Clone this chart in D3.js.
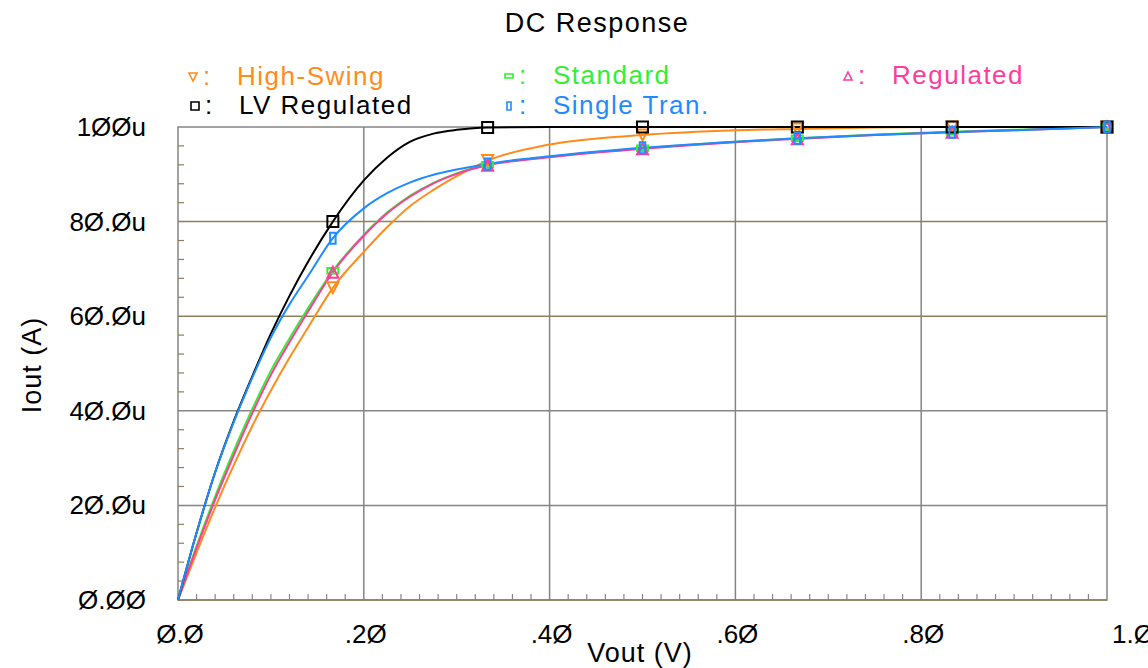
<!DOCTYPE html>
<html>
<head>
<meta charset="utf-8">
<script src="https://cdn.jsdelivr.net/npm/d3@7"></script>
<style>
  body { margin: 0; background: #fff; }
  svg { display: block; }
  text { font-family: 'Liberation Sans', Arial, sans-serif; }
</style>
</head>
<body>
<svg id="chart" width="1148" height="668"></svg>
<script>
// Vout sweep (V)
const vout = [0, 0.02, 0.04, 0.06, 0.08, 0.1, 0.12, 0.14, 0.1667, 0.2, 0.225, 0.25,
  0.275, 0.3, 0.3333, 0.4, 0.5, 0.6, 0.6667, 0.75, 0.8333, 0.9, 1.0];

// Iout (uA) per mirror type
const highSwing = [0, 10, 19.6, 28.5, 36.8, 44.3, 51.2, 57.6, 66, 73.6, 78.8, 83.3,
  86.7, 89.6, 92.9, 96.3, 98.3, 99.3, 99.6, 99.9, 100, 100, 100];
const standard = [0, 11.4, 21.9, 31.5, 40.4, 48.5, 55.3, 61.7, 69.6, 77.2, 81.9, 85.5,
  88.2, 90.2, 92, 93.7, 95.5, 96.9, 97.6, 98.4, 99, 99.4, 100];
const regulated = [0, 11, 21.2, 30.6, 39.5, 47.6, 54.5, 61, 69.3, 77, 81.7, 85.3,
  88.1, 90.1, 91.9, 93.6, 95.4, 96.8, 97.5, 98.3, 98.9, 99.3, 100];
const lvRegulated = [0, 14.2, 27, 37.8, 47.3, 56.3, 64.3, 71.5, 80, 88.7, 93.5, 96.9,
  98.6, 99.4, 99.9, 100, 100, 100, 100, 100, 100, 100, 100];
const singleTran = [0, 14.2, 27, 37.6, 47, 55.5, 62.5, 68.5, 76.5, 82.8, 86, 88.3,
  89.9, 91, 92.2, 93.8, 95.6, 96.9, 97.6, 98.3, 98.9, 99.3, 100];

// points that carry a marker
const markerV = [0.1667, 0.3333, 0.5, 0.6667, 0.8333, 1.0];

const xTicks = [0, 0.2, 0.4, 0.6, 0.8, 1.0];
const xTickLabels = ['Ø.Ø', '.2Ø', '.4Ø', '.6Ø', '.8Ø', '1.Ø'];
const yTicks = [0, 20, 40, 60, 80, 100];
const yTickLabels = ['Ø.ØØ', '2Ø.Øu', '4Ø.Øu', '6Ø.Øu', '8Ø.Øu', '1ØØu'];

const series = [
  { name: 'High-Swing', values: highSwing, color: '#ff8c1a', sym: 'down', lx: 193, ly: 77 },
  { name: 'Standard', values: standard, color: '#33ee33', sym: 'wide', lx: 509, ly: 76 },
  { name: 'Regulated', values: regulated, color: '#ff3c9c', sym: 'up', lx: 848, ly: 76 },
  { name: 'LV Regulated', values: lvRegulated, color: '#000000', sym: 'square', lx: 195, ly: 106 },
  { name: 'Single Tran.', values: singleTran, color: '#1e8cff', sym: 'tall', lx: 509, ly: 106 }
];

const svg = d3.select('#chart');

const x = d3.scaleLinear().domain([0, 1]).range([178, 1107]);
const y = d3.scaleLinear().domain([0, 100]).range([600, 127]);

const gridCol = '#858585';
const brownCol = '#8f7f58';

// grid
const grid = svg.append('g');
grid.selectAll('.vgrid')
  .data(xTicks.slice(1, -1))
  .enter().append('line')
    .attr('x1', d => x(d)).attr('x2', d => x(d))
    .attr('y1', y(0)).attr('y2', y(100))
    .attr('stroke', gridCol)
    .attr('stroke-width', 1.5);

grid.selectAll('.hgrid')
  .data(yTicks.slice(1, -1))
  .enter().append('line')
    .attr('x1', x(0)).attr('x2', x(1))
    .attr('y1', d => y(d)).attr('y2', d => y(d))
    .attr('stroke', d => (d >= 60 ? brownCol : gridCol))
    .attr('stroke-width', 1.5);

// frame
grid.append('rect')
  .attr('x', x(0)).attr('y', y(100))
  .attr('width', x(1) - x(0)).attr('height', y(0) - y(100))
  .attr('fill', 'none')
  .attr('stroke', gridCol)
  .attr('stroke-width', 1.5);
grid.append('line')
  .attr('x1', x(0)).attr('x2', x(1))
  .attr('y1', y(0)).attr('y2', y(0))
  .attr('stroke', brownCol)
  .attr('stroke-width', 1.5);

// minor ticks
const xMinor = d3.range(1, 50).map(i => i * 0.02).filter(d => Math.round(d * 100) % 20 !== 0);
grid.selectAll('.xminor')
  .data(xMinor)
  .enter().append('line')
    .attr('x1', d => x(d)).attr('x2', d => x(d))
    .attr('y1', y(0)).attr('y2', y(0) - 6)
    .attr('stroke', gridCol)
    .attr('stroke-width', 1.2);

const yMinor = d3.range(1, 25).map(i => i * 4).filter(d => d % 20 !== 0);
grid.selectAll('.yminor')
  .data(yMinor)
  .enter().append('line')
    .attr('x1', x(0)).attr('x2', x(0) + 6)
    .attr('y1', d => y(d)).attr('y2', d => y(d))
    .attr('stroke', brownCol)
    .attr('stroke-width', 1.2);

// tick labels
svg.append('g').selectAll('text')
  .data(xTicks)
  .enter().append('text')
    .attr('x', (d, i) => (i === xTicks.length - 1 ? x(d) + 5 : x(d) + 2))
    .attr('y', 643)
    .attr('text-anchor', (d, i) => (i === xTicks.length - 1 ? 'start' : 'middle'))
    .attr('font-size', 26)
    .attr('fill', '#000')
    .text((d, i) => xTickLabels[i]);

svg.append('g').selectAll('text')
  .data(yTicks)
  .enter().append('text')
    .attr('x', 146)
    .attr('y', d => y(d) + 9)
    .attr('text-anchor', 'end')
    .attr('font-size', 26)
    .attr('fill', '#000')
    .text((d, i) => yTickLabels[i]);

// axis titles
svg.append('text')
  .attr('x', 640).attr('y', 662)
  .attr('text-anchor', 'middle')
  .attr('font-size', 27)
  .attr('letter-spacing', 1)
  .text('Vout (V)');

svg.append('text')
  .attr('transform', 'translate(41,365) rotate(-90)')
  .attr('text-anchor', 'middle')
  .attr('font-size', 27)
  .attr('letter-spacing', 1)
  .text('Iout (A)');

svg.append('text')
  .attr('x', 597).attr('y', 32)
  .attr('text-anchor', 'middle')
  .attr('font-size', 27)
  .attr('letter-spacing', 1.5)
  .text('DC Response');

// marker shapes
function markerPath(sym, s) {
  const h = s / 2;
  if (sym === 'square') return `M${-h},${-h}H${h}V${h}H${-h}Z`;
  if (sym === 'wide') return `M${-h},${-h / 2}H${h}V${h / 2}H${-h}Z`;
  if (sym === 'tall') return `M${-h / 2},${-h}H${h / 2}V${h}H${-h / 2}Z`;
  if (sym === 'up') return `M0,${-h}L${h},${h}L${-h},${h}Z`;
  return `M${-h},${-h}L${h},${-h}L0,${h}Z`;
}

// curves
const line = d3.line()
  .x((d, i) => x(vout[i]))
  .y(d => y(d))
  .curve(d3.curveMonotoneX);

const curves = svg.append('g');
series.forEach((s) => {
  curves.append('path')
    .attr('d', line(s.values))
    .attr('fill', 'none')
    .attr('stroke', s.color)
    .attr('stroke-width', 2);
});

series.forEach((s) => {
  curves.append('g').selectAll('path')
    .data(markerV)
    .enter().append('path')
      .attr('transform', (v) => {
        const i = vout.indexOf(v);
        return `translate(${x(v)},${y(s.values[i])})`;
      })
      .attr('d', markerPath(s.sym, 11))
      .attr('fill', 'none')
      .attr('stroke', s.color)
      .attr('stroke-width', 2);
});

// legend
const legend = svg.append('g')
  .selectAll('.legend')
  .data(series)
  .enter().append('g')
    .attr('class', 'legend')
    .attr('transform', d => `translate(${d.lx},${d.ly})`);

legend.append('path')
  .attr('d', d => markerPath(d.sym, 8))
  .attr('fill', 'none')
  .attr('stroke', d => d.color)
  .attr('stroke-width', 1.6);

legend.append('text')
  .attr('x', 10).attr('y', 8)
  .attr('font-size', 26)
  .attr('fill', d => d.color)
  .text(':');

legend.append('text')
  .attr('x', 44).attr('y', 8)
  .attr('font-size', 26)
  .attr('letter-spacing', 1.5)
  .attr('fill', d => d.color)
  .text(d => d.name);
</script>
</body>
</html>
